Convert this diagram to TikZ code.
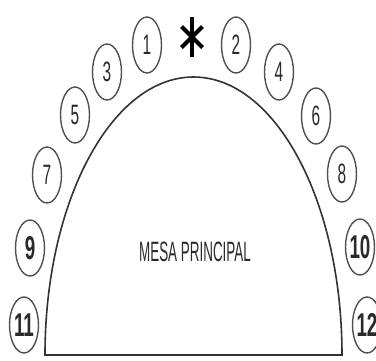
\documentclass[tikz,border=0pt]{standalone}
\usepackage{fontspec}
\usepackage{graphicx}
\setmainfont{Liberation Sans}
\usetikzlibrary{shapes.geometric}
\definecolor{archc}{HTML}{333333}
\definecolor{seatc}{HTML}{505050}
\definecolor{textc}{HTML}{2A2A2A}
\tikzset{
  seat/.style={ellipse, draw=seatc, line width=1.4pt, minimum width=29pt, minimum height=56pt, inner sep=0pt, text=textc},
  arch/.style={draw=archc, line width=1.6pt, line join=miter},
  star/.style={line width=4.2pt, black, line cap=butt},
}
\newcommand{\smallnum}[1]{\makebox[0pt]{\scalebox{0.55}[1]{\fontsize{28}{28}\selectfont #1}}}
\newcommand{\bignum}[1]{\makebox[0pt]{\scalebox{0.57}[1]{\fontsize{33}{33}\selectfont\bfseries #1}}}
\begin{document}
\begin{tikzpicture}[x=1pt,y=-1pt]
\useasboundingbox (0,0) rectangle (376,360);
% main table
\draw[arch] (45,355) arc[start angle=180, end angle=360, x radius=148.5, y radius=278] -- cycle;
\node[text=textc, inner sep=0pt] (mesa) at (195,252) {\scalebox{0.48}[1]{\fontsize{28}{28}\selectfont MESA PRINCIPAL}};
% asterisk
\coordinate (st) at (192,37);
\draw[star] ([yshift=-20pt]st) -- ([yshift=20pt]st);
\draw[star] ([shift={(-10.5,-10.5)}]st) -- ([shift={(10.5,10.5)}]st);
\draw[star] ([shift={(10.5,-10.5)}]st) -- ([shift={(-10.5,10.5)}]st);
% seats
\node[seat] (s1) at (147,45) {\smallnum{1}};
\node[seat] (s2) at (236,45) {\smallnum{2}};
\node[seat] (s3) at (107,72) {\smallnum{3}};
\node[seat] (s4) at (279,72) {\smallnum{4}};
\node[seat] (s5) at (75,115) {\smallnum{5}};
\node[seat] (s6) at (316,116) {\smallnum{6}};
\node[seat] (s7) at (47,175) {\smallnum{7}};
\node[seat] (s8) at (342,174) {\smallnum{8}};
\node[seat] (s9) at (30,248) {\bignum{9}};
\node[seat] (s10) at (360,247) {\bignum{10}};
\node[seat] (s11) at (24,325) {\bignum{11}};
\node[seat] (s12) at (367,325) {\bignum{12}};
\end{tikzpicture}
\end{document}
